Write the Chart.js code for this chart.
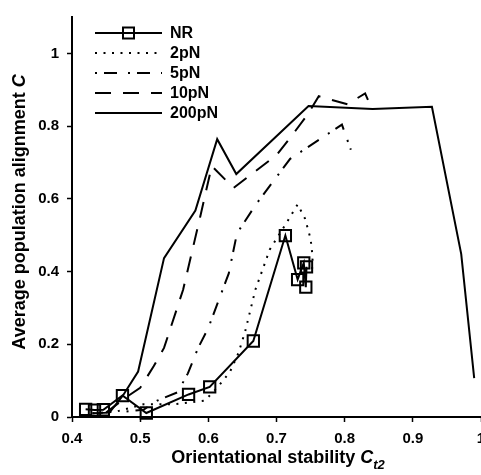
<!DOCTYPE html>
<html lang="en">
<head>
    <meta charset="UTF-8">
    <title>Average population alignment vs orientational stability</title>
    <script src="https://cdn.jsdelivr.net/npm/chart.js"></script>
    <style>
        body {
            margin: 0;
            background-color: #fff;
        }
        .chart-container {
            width: 481px;
            height: 475px;
            overflow: hidden;
        }
    </style>
</head>
<body>
    <div class="chart-container">
        <canvas id="chartAlign" width="520" height="475"></canvas>
    </div>

    <script>
        // x ticks and series
        const xTicks = [0.4, 0.5, 0.6, 0.7, 0.8, 0.9, 1.0];
        const yTicks = [0, 0.2, 0.4, 0.6, 0.8, 1.0];
        const seriesNames = ['NR', '2pN', '5pN', '10pN', '200pN'];

        const nrX = [0.42, 0.433, 0.446, 0.474, 0.509, 0.571, 0.602, 0.666, 0.713, 0.731, 0.740, 0.743, 0.744];
        const nrY = [0.021, 0.019, 0.020, 0.059, 0.011, 0.062, 0.083, 0.209, 0.499, 0.378, 0.424, 0.357, 0.413];

        const p2X = [0.43, 0.465, 0.505, 0.55, 0.595, 0.615, 0.632, 0.644, 0.654, 0.669, 0.69, 0.715, 0.731, 0.742, 0.75, 0.753, 0.752];
        const p2Y = [0.01, 0.015, 0.035, 0.035, 0.045, 0.085, 0.125, 0.175, 0.235, 0.35, 0.46, 0.535, 0.585, 0.545, 0.49, 0.44, 0.40];

        const p5X = [0.48, 0.505, 0.525, 0.555, 0.57, 0.585, 0.60, 0.615, 0.63, 0.642, 0.67, 0.72, 0.796, 0.809];
        const p5Y = [0.015, 0.02, 0.045, 0.068, 0.12, 0.19, 0.245, 0.32, 0.395, 0.505, 0.585, 0.71, 0.804, 0.735];

        const p10X = [0.45, 0.48, 0.50, 0.52, 0.535, 0.563, 0.588, 0.605, 0.637, 0.665, 0.70, 0.725, 0.745, 0.762, 0.804, 0.83, 0.838];
        const p10Y = [0.012, 0.055, 0.08, 0.14, 0.19, 0.35, 0.55, 0.69, 0.63, 0.67, 0.72, 0.78, 0.83, 0.882, 0.86, 0.89, 0.855];

        const p200X = [0.43, 0.455, 0.475, 0.497, 0.535, 0.581, 0.613, 0.641, 0.747, 0.841, 0.928, 0.971, 0.99];
        const p200Y = [0.01, 0.012, 0.06, 0.125, 0.437, 0.568, 0.764, 0.668, 0.855, 0.847, 0.853, 0.448, 0.107];

        const FONT = '"Liberation Sans", Arial, sans-serif';
        const pts = (xs, ys) => xs.map((x, i) => ({ x: x, y: ys[i] }));

        const dashes = [[], [2, 6.5], [2, 7, 13, 11], [16, 12], []];

        const makeSet = (i, xs, ys) => ({
            label: seriesNames[i],
            data: pts(xs, ys),
            borderColor: '#000',
            borderWidth: 2,
            borderDash: dashes[i],
            pointRadius: 0,
            tension: 0,
            fill: false,
            clip: false
        });

        const datasets = [
            makeSet(0, nrX, nrY),
            makeSet(1, p2X, p2Y),
            makeSet(2, p5X, p5Y),
            makeSet(3, p10X, p10Y),
            makeSet(4, p200X, p200Y)
        ];
        datasets[0].pointStyle = 'rect';
        datasets[0].pointRadius = 8;
        datasets[0].pointBorderWidth = 2;
        datasets[0].pointBorderColor = '#000';
        datasets[0].pointBackgroundColor = 'rgba(0,0,0,0)';

        // axis titles and legend drawn by hand (italic C, subscript)
        const extras = {
            id: 'extras',
            afterDraw(chart) {
                const ctx = chart.ctx;
                ctx.save();
                ctx.fillStyle = '#000';
                ctx.strokeStyle = '#000';

                // x title
                const a = 'Orientational stability ';
                ctx.font = 'bold 18px ' + FONT;
                const wa = ctx.measureText(a).width;
                ctx.font = 'italic bold 18px ' + FONT;
                const wc = ctx.measureText('C').width;
                ctx.font = 'italic bold 13px ' + FONT;
                const ws = ctx.measureText('t2').width;
                let x0 = 278 - (wa + wc + ws) / 2;
                ctx.textBaseline = 'alphabetic';
                ctx.textAlign = 'left';
                ctx.font = 'bold 18px ' + FONT;
                ctx.fillText(a, x0, 463);
                ctx.font = 'italic bold 18px ' + FONT;
                ctx.fillText('C', x0 + wa, 463);
                ctx.font = 'italic bold 13px ' + FONT;
                ctx.fillText('t2', x0 + wa + wc, 469);

                // y title
                const b = 'Average population alignment ';
                ctx.font = 'bold 18px ' + FONT;
                const wb = ctx.measureText(b).width;
                ctx.font = 'italic bold 18px ' + FONT;
                const wc2 = ctx.measureText('C').width;
                ctx.translate(25, 212);
                ctx.rotate(-Math.PI / 2);
                const y0 = -(wb + wc2) / 2;
                ctx.font = 'bold 18px ' + FONT;
                ctx.fillText(b, y0, 0);
                ctx.font = 'italic bold 18px ' + FONT;
                ctx.fillText('C', y0 + wb, 0);
                ctx.setTransform(1, 0, 0, 1, 0, 0);

                // legend
                ctx.font = 'bold 16px ' + FONT;
                ctx.textBaseline = 'middle';
                seriesNames.forEach((name, i) => {
                    const y = 33 + i * 20;
                    ctx.lineWidth = 2;
                    ctx.setLineDash(dashes[i]);
                    ctx.beginPath();
                    ctx.moveTo(95, y);
                    ctx.lineTo(162, y);
                    ctx.stroke();
                    ctx.setLineDash([]);
                    if (i === 0) {
                        ctx.strokeRect(123, y - 5.5, 11, 11);
                    }
                    ctx.fillText(name, 170, y + 1);
                });
                ctx.restore();
            }
        };

        const ctxAlign = document.getElementById('chartAlign').getContext('2d');
        const chartAlign = new Chart(ctxAlign, {
            type: 'line',
            data: { datasets: datasets },
            plugins: [extras],
            options: {
                responsive: false,
                animation: false,
                devicePixelRatio: 1,
                layout: { padding: { top: 7, right: 39, left: 0, bottom: 0 } },
                plugins: {
                    legend: { display: false },
                    tooltip: { enabled: false }
                },
                scales: {
                    x: {
                        type: 'linear',
                        min: 0.4,
                        max: 1.0,
                        afterFit: s => { s.height = 58; },
                        afterBuildTicks: s => { s.ticks = xTicks.map(v => ({ value: v })); },
                        grid: { drawOnChartArea: false, drawTicks: true, tickLength: 5, tickWidth: 1.5, tickColor: '#000' },
                        border: { display: true, color: '#000', width: 2 },
                        ticks: {
                            color: '#000',
                            padding: 8,
                            maxRotation: 0,
                            font: { family: FONT, size: 15, weight: 'bold' },
                            callback: v => (v === 1 ? '1' : v.toFixed(1))
                        }
                    },
                    y: {
                        min: 0,
                        max: 1.1,
                        afterFit: s => { s.width = 72; },
                        afterBuildTicks: s => { s.ticks = yTicks.map(v => ({ value: v })); },
                        grid: { drawOnChartArea: false, drawTicks: true, tickLength: 5, tickWidth: 1.5, tickColor: '#000' },
                        border: { display: true, color: '#000', width: 2 },
                        ticks: {
                            color: '#000',
                            padding: 8,
                            font: { family: FONT, size: 15, weight: 'bold' },
                            callback: v => (v === 0 ? '0' : v === 1 ? '1' : v.toFixed(1))
                        }
                    }
                }
            }
        });
    </script>
</body>
</html>
